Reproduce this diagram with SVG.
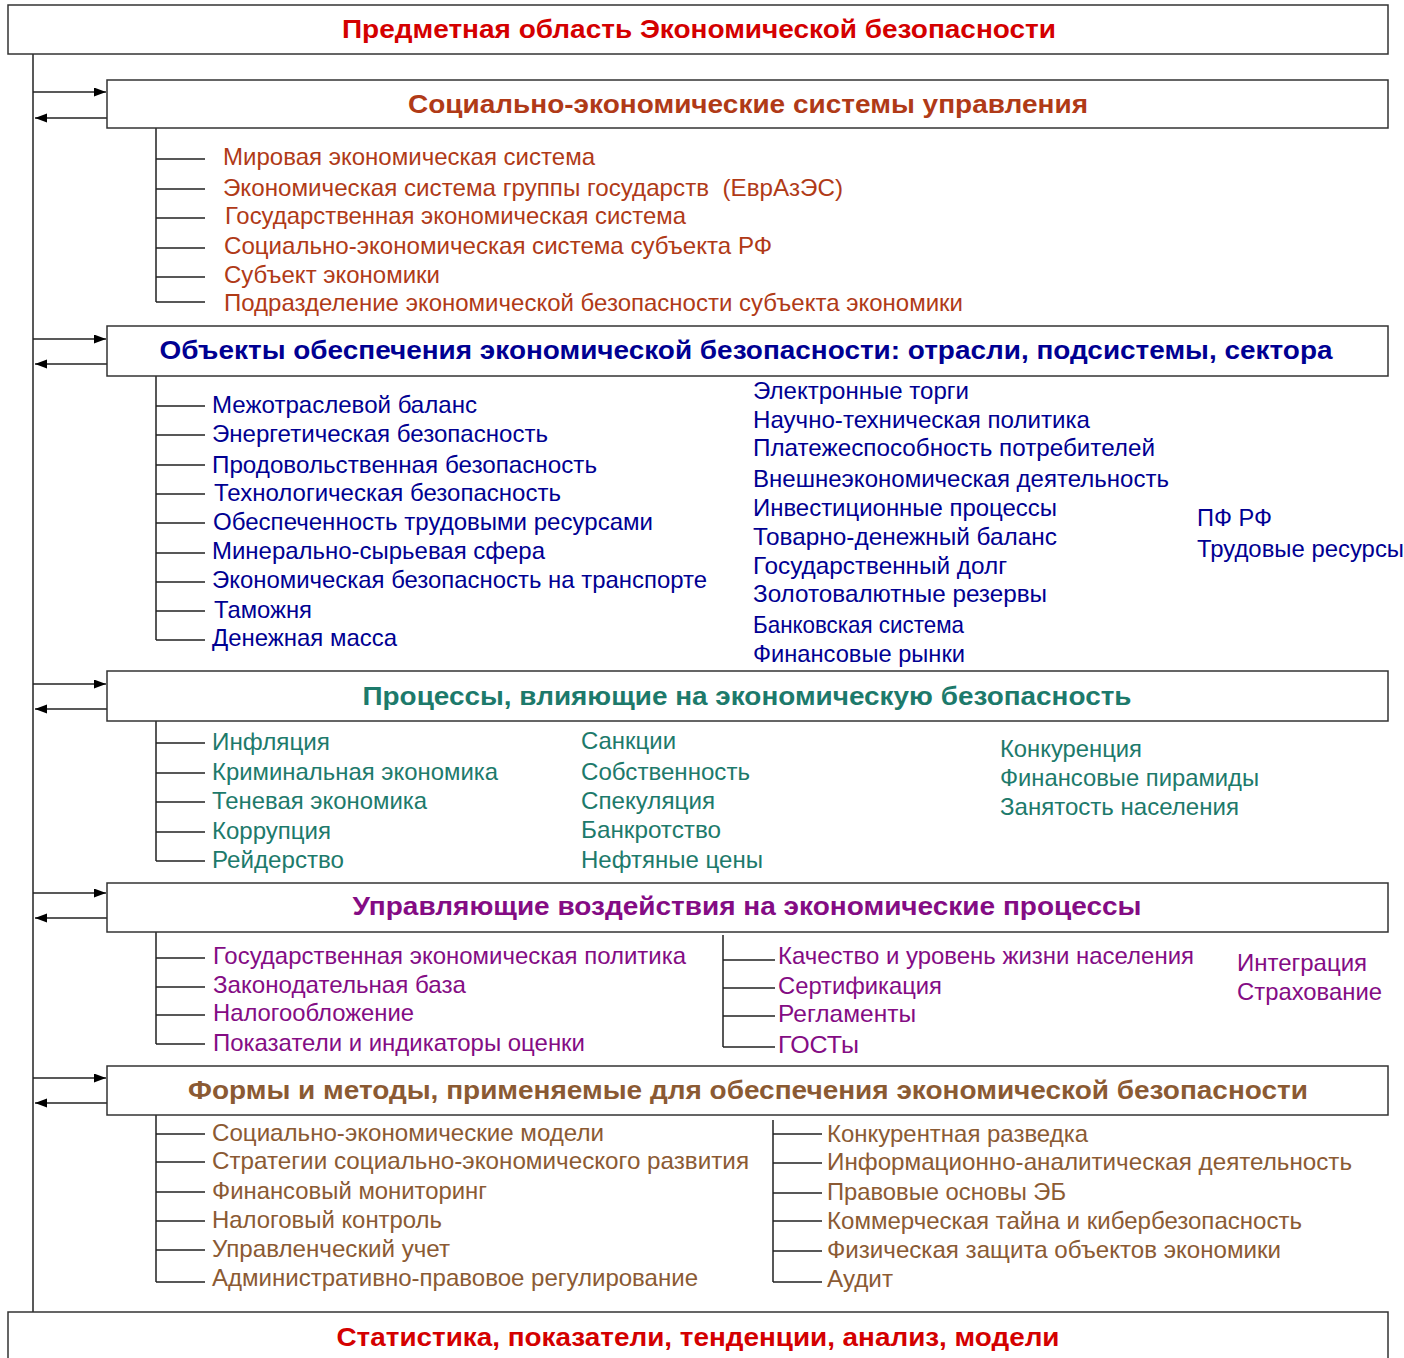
<svg xmlns="http://www.w3.org/2000/svg" width="1404" height="1358" viewBox="0 0 1404 1358">
<style>
text{font-family:"Liberation Sans",Arial,sans-serif;}
.box{fill:#fff;stroke:#333;stroke-width:1.5;}
.ln{stroke:#222;stroke-width:1.5;fill:none;}
.tt{font-size:26px;font-weight:bold;text-anchor:middle;}
.it{font-size:24px;}
.red{fill:#D40000;}
.c1{fill:#B03A17;}
.c2{fill:#000092;}
.c3{fill:#1D7A6B;}
.c4{fill:#840C84;}
.c5{fill:#8B5A33;}
</style>
<defs>
<marker id="ah" markerUnits="userSpaceOnUse" markerWidth="13" markerHeight="10" refX="12" refY="4.5" orient="auto">
<path d="M0,0 L12,4.5 L0,9 z" fill="#000"/>
</marker>
</defs>
<rect width="1404" height="1358" fill="#fff"/>

<g id="connectors">
<line class="ln" x1="33" y1="54" x2="33" y2="1312"/>
<line class="ln" x1="33" y1="92" x2="106" y2="92" marker-end="url(#ah)"/>
<line class="ln" x1="107" y1="118" x2="35" y2="118" marker-end="url(#ah)"/>
<line class="ln" x1="33" y1="339" x2="106" y2="339" marker-end="url(#ah)"/>
<line class="ln" x1="107" y1="364" x2="35" y2="364" marker-end="url(#ah)"/>
<line class="ln" x1="33" y1="684" x2="106" y2="684" marker-end="url(#ah)"/>
<line class="ln" x1="107" y1="709" x2="35" y2="709" marker-end="url(#ah)"/>
<line class="ln" x1="33" y1="893" x2="106" y2="893" marker-end="url(#ah)"/>
<line class="ln" x1="107" y1="918" x2="35" y2="918" marker-end="url(#ah)"/>
<line class="ln" x1="33" y1="1078" x2="106" y2="1078" marker-end="url(#ah)"/>
<line class="ln" x1="107" y1="1103" x2="35" y2="1103" marker-end="url(#ah)"/>
<path class="ln" d="M156,128 V302 M156,159 H205 M156,189 H205 M156,218 H205 M156,248 H205 M156,277 H205 M156,302 H205"/>
<path class="ln" d="M156,376 V640 M156,406 H205 M156,435 H205 M156,465 H205 M156,494 H205 M156,523 H205 M156,553 H205 M156,582 H205 M156,611 H205 M156,640 H205"/>
<path class="ln" d="M156,721 V861 M156,743 H205 M156,773 H205 M156,802 H205 M156,832 H205 M156,861 H205"/>
<path class="ln" d="M156,932 V1044 M156,958 H205 M156,987 H205 M156,1015 H205 M156,1044 H205"/>
<path class="ln" d="M723,935 V1047 M723,960 H775 M723,988 H775 M723,1016 H775 M723,1047 H775"/>
<path class="ln" d="M156,1115 V1282 M156,1134 H205 M156,1162 H205 M156,1192 H205 M156,1221 H205 M156,1250 H205 M156,1282 H205"/>
<path class="ln" d="M773,1120 V1282 M773,1134 H822 M773,1163 H822 M773,1193 H822 M773,1221 H822 M773,1251 H822 M773,1282 H822"/>
</g>

<g id="top">
<rect class="box" x="8" y="5" width="1380" height="49"/>
<text class="tt red" x="699" y="38" textLength="714" lengthAdjust="spacingAndGlyphs">Предметная область Экономической безопасности</text>
</g>

<g id="s1">
<rect class="box" x="107" y="80" width="1281" height="48"/>
<text class="tt c1" x="748" y="113" textLength="680" lengthAdjust="spacingAndGlyphs">Социально-экономические системы управления</text>
</g>
<g id="s1-items" class="it c1">
<text x="223" y="165" textLength="372" lengthAdjust="spacingAndGlyphs">Мировая экономическая система</text>
<text x="223" y="196" textLength="620" lengthAdjust="spacingAndGlyphs" style="white-space:pre">Экономическая система группы государств  (ЕврАзЭС)</text>
<text x="225" y="224" textLength="461" lengthAdjust="spacingAndGlyphs">Государственная экономическая система</text>
<text x="224" y="254" textLength="548" lengthAdjust="spacingAndGlyphs">Социально-экономическая система субъекта РФ</text>
<text x="224" y="283" textLength="216" lengthAdjust="spacingAndGlyphs">Субъект экономики</text>
<text x="224" y="311" textLength="739" lengthAdjust="spacingAndGlyphs">Подразделение экономической безопасности субъекта экономики</text>
</g>

<g id="s2">
<rect class="box" x="107" y="326" width="1281" height="50"/>
<text class="tt c2" x="746" y="359" textLength="1173" lengthAdjust="spacingAndGlyphs">Объекты обеспечения экономической безопасности: отрасли, подсистемы, сектора</text>
</g>
<g id="s2-items" class="it c2">
<text x="212" y="413" textLength="265" lengthAdjust="spacingAndGlyphs">Межотраслевой баланс</text>
<text x="212" y="442" textLength="336" lengthAdjust="spacingAndGlyphs">Энергетическая безопасность</text>
<text x="212" y="473" textLength="385" lengthAdjust="spacingAndGlyphs">Продовольственная безопасность</text>
<text x="214" y="501" textLength="347" lengthAdjust="spacingAndGlyphs">Технологическая безопасность</text>
<text x="213" y="530" textLength="440" lengthAdjust="spacingAndGlyphs">Обеспеченность трудовыми ресурсами</text>
<text x="212" y="559" textLength="333" lengthAdjust="spacingAndGlyphs">Минерально-сырьевая сфера</text>
<text x="212" y="588" textLength="495" lengthAdjust="spacingAndGlyphs">Экономическая безопасность на транспорте</text>
<text x="214" y="618" textLength="98" lengthAdjust="spacingAndGlyphs">Таможня</text>
<text x="212" y="646" textLength="185" lengthAdjust="spacingAndGlyphs">Денежная масса</text>
<text x="753" y="399" textLength="216" lengthAdjust="spacingAndGlyphs">Электронные торги</text>
<text x="753" y="428" textLength="337" lengthAdjust="spacingAndGlyphs">Научно-техническая политика</text>
<text x="753" y="456" textLength="402" lengthAdjust="spacingAndGlyphs">Платежеспособность потребителей</text>
<text x="753" y="487" textLength="416" lengthAdjust="spacingAndGlyphs">Внешнеэкономическая деятельность</text>
<text x="753" y="516" textLength="304" lengthAdjust="spacingAndGlyphs">Инвестиционные процессы</text>
<text x="753" y="545" textLength="304" lengthAdjust="spacingAndGlyphs">Товарно-денежный баланс</text>
<text x="753" y="574" textLength="254" lengthAdjust="spacingAndGlyphs">Государственный долг</text>
<text x="753" y="602" textLength="294" lengthAdjust="spacingAndGlyphs">Золотовалютные резервы</text>
<text x="753" y="633" textLength="211" lengthAdjust="spacingAndGlyphs">Банковская система</text>
<text x="753" y="662" textLength="212" lengthAdjust="spacingAndGlyphs">Финансовые рынки</text>
<text x="1197" y="526" textLength="75" lengthAdjust="spacingAndGlyphs">ПФ РФ</text>
<text x="1197" y="557" textLength="207" lengthAdjust="spacingAndGlyphs">Трудовые ресурсы</text>
</g>

<g id="s3">
<rect class="box" x="107" y="671" width="1281" height="50"/>
<text class="tt c3" x="747" y="705" textLength="769" lengthAdjust="spacingAndGlyphs">Процессы, влияющие на экономическую безопасность</text>
</g>
<g id="s3-items" class="it c3">
<text x="212" y="750" textLength="118" lengthAdjust="spacingAndGlyphs">Инфляция</text>
<text x="212" y="780" textLength="286" lengthAdjust="spacingAndGlyphs">Криминальная экономика</text>
<text x="212" y="809" textLength="215" lengthAdjust="spacingAndGlyphs">Теневая экономика</text>
<text x="212" y="839" textLength="119" lengthAdjust="spacingAndGlyphs">Коррупция</text>
<text x="212" y="868" textLength="132" lengthAdjust="spacingAndGlyphs">Рейдерство</text>
<text x="581" y="749" textLength="95" lengthAdjust="spacingAndGlyphs">Санкции</text>
<text x="581" y="780" textLength="169" lengthAdjust="spacingAndGlyphs">Собственность</text>
<text x="581" y="809" textLength="134" lengthAdjust="spacingAndGlyphs">Спекуляция</text>
<text x="581" y="838" textLength="140" lengthAdjust="spacingAndGlyphs">Банкротство</text>
<text x="581" y="868" textLength="182" lengthAdjust="spacingAndGlyphs">Нефтяные цены</text>
<text x="1000" y="757" textLength="142" lengthAdjust="spacingAndGlyphs">Конкуренция</text>
<text x="1000" y="786" textLength="259" lengthAdjust="spacingAndGlyphs">Финансовые пирамиды</text>
<text x="1000" y="815" textLength="239" lengthAdjust="spacingAndGlyphs">Занятость населения</text>
</g>

<g id="s4">
<rect class="box" x="107" y="883" width="1281" height="49"/>
<text class="tt c4" x="747" y="915" textLength="789" lengthAdjust="spacingAndGlyphs">Управляющие воздействия на экономические процессы</text>
</g>
<g id="s4-items" class="it c4">
<text x="213" y="964" textLength="473" lengthAdjust="spacingAndGlyphs">Государственная экономическая политика</text>
<text x="213" y="993" textLength="253" lengthAdjust="spacingAndGlyphs">Законодательная база</text>
<text x="213" y="1021" textLength="201" lengthAdjust="spacingAndGlyphs">Налогообложение</text>
<text x="213" y="1051" textLength="372" lengthAdjust="spacingAndGlyphs">Показатели и индикаторы оценки</text>
<text x="778" y="964" textLength="416" lengthAdjust="spacingAndGlyphs">Качество и уровень жизни населения</text>
<text x="778" y="994" textLength="164" lengthAdjust="spacingAndGlyphs">Сертификация</text>
<text x="778" y="1022" textLength="138" lengthAdjust="spacingAndGlyphs">Регламенты</text>
<text x="778" y="1053" textLength="81" lengthAdjust="spacingAndGlyphs">ГОСТы</text>
<text x="1237" y="971" textLength="130" lengthAdjust="spacingAndGlyphs">Интеграция</text>
<text x="1237" y="1000" textLength="145" lengthAdjust="spacingAndGlyphs">Страхование</text>
</g>

<g id="s5">
<rect class="box" x="107" y="1066" width="1281" height="49"/>
<text class="tt c5" x="748" y="1099" textLength="1120" lengthAdjust="spacingAndGlyphs">Формы и методы, применяемые для обеспечения экономической безопасности</text>
</g>
<g id="s5-items" class="it c5">
<text x="212" y="1141" textLength="392" lengthAdjust="spacingAndGlyphs">Социально-экономические модели</text>
<text x="212" y="1169" textLength="537" lengthAdjust="spacingAndGlyphs">Стратегии социально-экономического развития</text>
<text x="212" y="1199" textLength="275" lengthAdjust="spacingAndGlyphs">Финансовый мониторинг</text>
<text x="212" y="1228" textLength="230" lengthAdjust="spacingAndGlyphs">Налоговый контроль</text>
<text x="212" y="1257" textLength="238" lengthAdjust="spacingAndGlyphs">Управленческий учет</text>
<text x="212" y="1286" textLength="486" lengthAdjust="spacingAndGlyphs">Административно-правовое регулирование</text>
<text x="827" y="1142" textLength="261" lengthAdjust="spacingAndGlyphs">Конкурентная разведка</text>
<text x="827" y="1170" textLength="525" lengthAdjust="spacingAndGlyphs">Информационно-аналитическая деятельность</text>
<text x="827" y="1200" textLength="239" lengthAdjust="spacingAndGlyphs">Правовые основы ЭБ</text>
<text x="827" y="1229" textLength="475" lengthAdjust="spacingAndGlyphs">Коммерческая тайна и кибербезопасность</text>
<text x="827" y="1258" textLength="454" lengthAdjust="spacingAndGlyphs">Физическая защита объектов экономики</text>
<text x="827" y="1287" textLength="66" lengthAdjust="spacingAndGlyphs">Аудит</text>
</g>

<g id="bottom">
<rect class="box" x="8" y="1312" width="1380" height="52"/>
<text class="tt red" x="698" y="1346" textLength="723" lengthAdjust="spacingAndGlyphs">Статистика, показатели, тенденции, анализ, модели</text>
</g>
</svg>
